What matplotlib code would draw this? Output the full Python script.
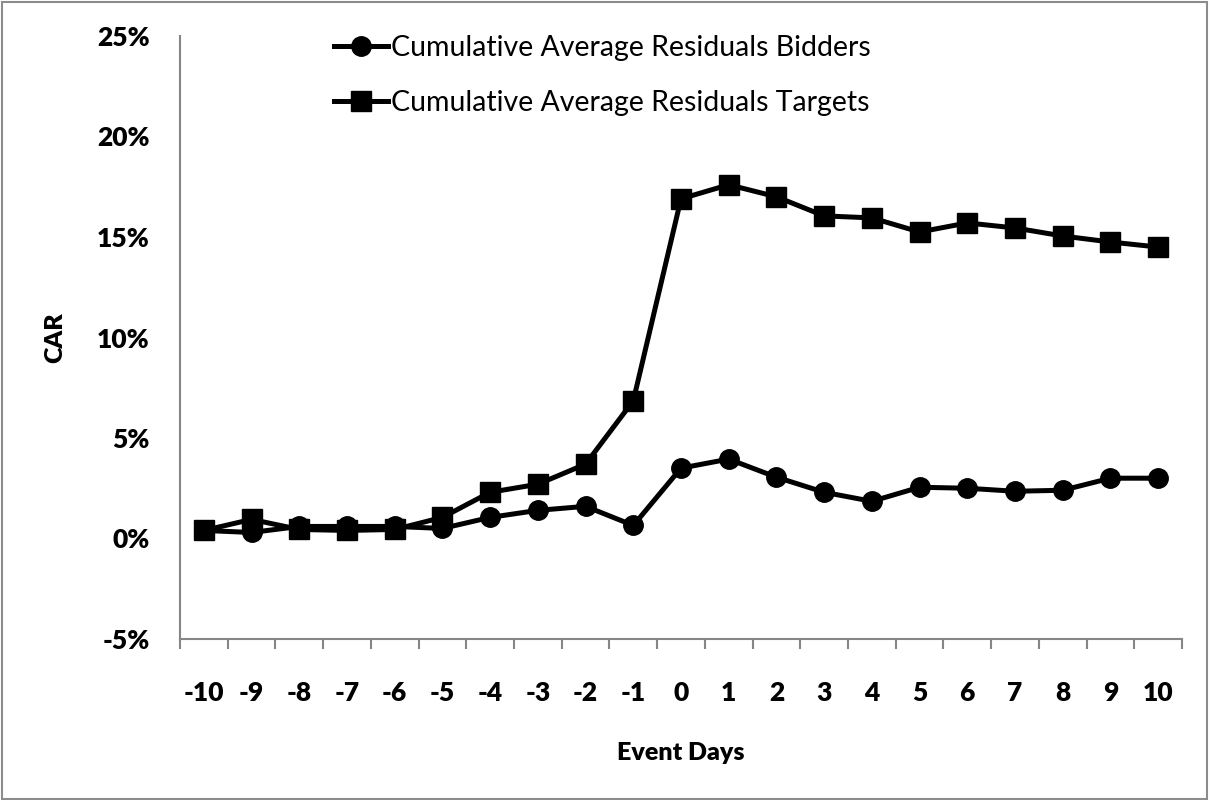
import numpy as np
import matplotlib
matplotlib.use("Agg")
import matplotlib.pyplot as plt
from matplotlib.patches import Rectangle
from matplotlib.ticker import FuncFormatter

# event window
event_days = list(range(-10, 11))

# cumulative average residuals, in percent
car_bidders = [0.4, 0.3, 0.6, 0.6, 0.6, 0.5, 1.05, 1.4, 1.6, 0.65, 3.5,
               3.95, 3.05, 2.3, 1.85, 2.55, 2.5, 2.35, 2.4, 3.0, 3.0]
car_targets = [0.4, 0.95, 0.45, 0.4, 0.45, 1.05, 2.3, 2.7, 3.7, 6.85, 16.9,
               17.6, 17.0, 16.05, 15.95, 15.25, 15.7, 15.45, 15.05, 14.75, 14.5]

y_ticks = [-5, 0, 5, 10, 15, 20, 25]

plt.rcParams["font.family"] = ["Lato", "DejaVu Sans"]

fig = plt.figure(figsize=(12.1, 8), dpi=100)
ax = fig.add_axes([180 / 1210, 1 - 639 / 800, 1002 / 1210, 603 / 800])

# outer frame of the chart
fig.patches.append(Rectangle((2 / 1210, 1 / 800), 1205 / 1210, 797 / 800,
                             transform=fig.transFigure, fill=False,
                             edgecolor="#8c8c8c", linewidth=1.5))

x = np.arange(len(event_days))
ax.plot(x, car_bidders, color="black", lw=3.6, marker="o", ms=14,
        label="Cumulative Average Residuals Bidders", zorder=3)
ax.plot(x, car_targets, color="black", lw=3.6, marker="s", ms=14,
        label="Cumulative Average Residuals Targets", zorder=3)

ax.set_xlim(-0.5, len(event_days) - 0.5)
ax.set_ylim(-5, 25)

for side in ["top", "right"]:
    ax.spines[side].set_visible(False)
for side in ["left", "bottom"]:
    ax.spines[side].set_color("#868686")
    ax.spines[side].set_linewidth(1.5)

ax.set_xticks(x)
ax.set_xticklabels([str(d) for d in event_days])
ax.set_xticks(np.arange(-0.5, len(event_days)), minor=True)
ax.tick_params(axis="x", which="major", length=0, pad=30, labelsize=19)
ax.tick_params(axis="x", which="minor", length=7, width=1.5, color="#868686")
for lab in ax.get_xticklabels():
    lab.set_fontweight("heavy")

ax.set_yticks(y_ticks)
ax.yaxis.set_major_formatter(FuncFormatter(lambda v, p: f"{v:.0f}%"))
ax.tick_params(axis="y", length=0, pad=22, labelsize=19)
for lab in ax.get_yticklabels():
    lab.set_fontweight("heavy")

ax.set_xlabel("Event Days", fontsize=18, fontweight="heavy", labelpad=27)
ax.set_ylabel("CAR", fontsize=18, fontweight="heavy", labelpad=22)

leg = ax.legend(loc="upper left", bbox_to_anchor=(143 / 1002, 1.02),
                frameon=False, fontsize=20.5, handlelength=1.9,
                handletextpad=0.1, labelspacing=1.0, borderaxespad=0)

fig.savefig("out.png", dpi=100, facecolor="white")
